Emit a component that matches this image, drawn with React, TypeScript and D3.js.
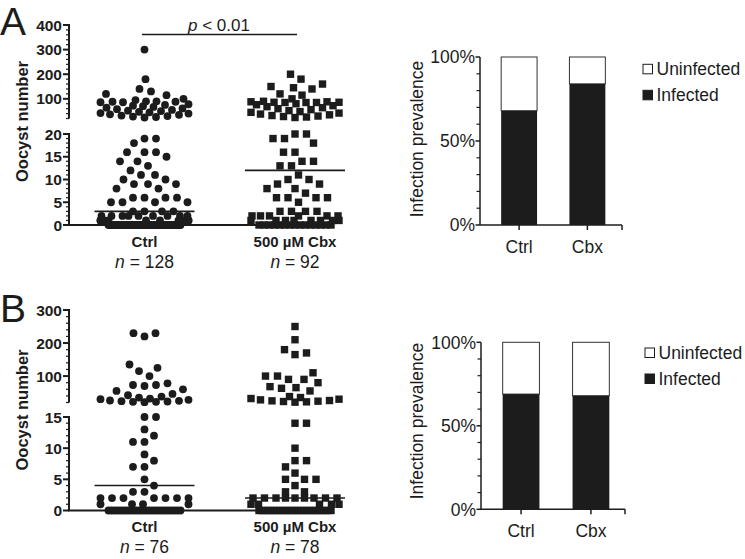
import React, { useMemo } from 'react';
import * as d3 from 'd3';

// ---------------- data ----------------
const groups = ['Ctrl', '500 µM Cbx'];
const prevCats = ['Ctrl', 'Cbx'];
const legendLabels = ['Uninfected', 'Infected'];

const rep = (v: number, n: number) => Array.from({ length: n }, () => v);

// Panel A – oocyst counts
const ctrlA = [
  300, 180, 140, 130, 120, 115, 100, 95, 90, 90, 88, 86, 86, 88,
  78, 75, 72, 70, 67, 64, 61, 58, 55, 52, 50, 47, 45, 42, 40, 37, 35, 32, 30, 28, 26, 24,
  19, 19, 18, 16, 16, 16, 15, 14, 14, 13, 12, 11, 11, 10, 10, 9, 9, 9, 8, 8, 6, 6, 6, 6, 5, 5, 5, 5,
  3, 3, 3, 3,
  ...rep(2, 9), ...rep(1, 10), ...rep(0, 41),
];
const cbxA = [
  200, 180, 160, 150, 145, 140, 120, 115, 100, 90, 88, 86, 85, 85, 85, 86, 88,
  80, 76, 72, 68, 64, 60, 56, 52, 48, 45, 42, 38, 35, 32, 30, 28, 26, 24,
  20, 20, 19, 19, 18, 16, 16, 14, 14, 13, 13, 11, 10, 10, 9, 9, 8, 8, 7, 6, 6, 6, 6, 5, 3, 3, 3, 3,
  ...rep(2, 6), ...rep(1, 8), ...rep(0, 15),
];
// Panel B – oocyst counts
const ctrlB = [
  230, 220, 230, 135, 125, 115, 100, 78, 73, 73, 70, 60, 55,
  46, 42, 38, 35, 32, 30, 28, 26, 25, 24, 23, 22, 22, 21,
  15, 15, 13, 12, 11, 11, 9, 8, 7, 7, 5, 4, 3, 3,
  ...rep(2, 7), ...rep(1, 4), ...rep(0, 24),
];
const cbxB = [
  250, 210, 180, 170, 165, 110, 100, 100, 90, 90, 80, 68, 65, 63, 55,
  38, 35, 32, 30, 28, 26, 25, 24, 23, 22, 21,
  14, 14, 10, 8, 8, 7, 6, 5, 5, 5, 4, 3, 3,
  ...rep(2, 9), ...rep(1, 5), ...rep(0, 25),
];

const mediansA = [3, 12];
const mediansB = [4, 2];
const nA = [128, 92];
const nB = [76, 78];

// Infection prevalence (% infected)
const infectedA = [68, 84];
const infectedB = [69, 68];

// axis ticks
const upperMajorA = [100, 200, 300, 400];
const lowerMajorA = [0, 5, 10, 15, 20];
const upperMajorB = [100, 200, 300];
const lowerMajorB = [0, 5, 10, 15];
const prevMajor = [0, 50, 100];

// ---------------- style ----------------
const FONT = '"Liberation Sans", Arial, Helvetica, sans-serif';
const INK = '#1c1c1c';

type Pt = { v: number; x: number; y: number };

function swarm(
  values: number[],
  yOf: (v: number) => number,
  breakAt: number,
  W = 44,
  Wz = 36,
  dmin = 11.5
): Pt[] {
  const placed: Pt[] = [];
  const zeros = values.filter((v) => v === 0);
  const upperVals = values.filter((v) => v > breakAt).sort((a, b) => a - b);
  const lowerVals = values.filter((v) => v > 0 && v <= breakAt).sort((a, b) => b - a);
  const n0 = zeros.length;
  if (n0) {
    const span = Math.min(Wz, ((n0 - 1) * dmin) / 2);
    zeros.forEach((v, i) => {
      const x = n0 === 1 ? 0 : -span + (i * 2 * span) / (n0 - 1);
      placed.push({ v, x, y: yOf(v) });
    });
  }
  const cands: number[] = [0];
  for (let k = 0.5; k <= W; k += 0.5) cands.push(k, -k);
  [...upperVals, ...lowerVals].forEach((v) => {
    const y = yOf(v);
    const near = placed.filter((p) => Math.abs(p.y - y) < dmin);
    let best = 0;
    let bestCost = Infinity;
    for (const x of cands) {
      let pen = 0;
      for (const p of near) {
        const dx = p.x - x;
        const dy = p.y - y;
        const d = Math.sqrt(dx * dx + dy * dy);
        if (d < dmin) pen += (dmin - d) * (dmin - d);
      }
      const cost = pen + 0.05 * Math.abs(x);
      if (cost < bestCost - 1e-9) {
        bestCost = cost;
        best = x;
      }
    }
    placed.push({ v, x: best, y });
  });
  return placed;
}

type ScatterProps = {
  letter: string;
  letterY: number;
  data: number[][];
  medians: number[];
  ns: number[];
  breakAt: number;
  upperDomain: [number, number];
  upperRange: [number, number];
  lowerDomain: [number, number];
  lowerRange: [number, number];
  upperMajor: number[];
  lowerMajor: number[];
  upperMinorStep: number;
  labelY: number;
  groupLabelY: number;
  nLabelY: number;
  pValue?: boolean;
};

function Scatter(p: ScatterProps) {
  const axisX = 69;
  const upper = d3.scaleLinear().domain(p.upperDomain).range(p.upperRange);
  const lower = d3.scaleLinear().domain(p.lowerDomain).range(p.lowerRange);
  const yOf = (v: number) => (v > p.breakAt ? upper(v) : lower(v));
  const x = d3.scalePoint<string>().domain(groups).range([144.5, 295]);
  const swarms = useMemo(() => p.data.map((vals) => swarm(vals, yOf, p.breakAt)), []);
  const baseY = p.lowerRange[0];

  const upMinor = d3.range(p.upperDomain[0], p.upperDomain[1] + 0.01, p.upperMinorStep).filter((t) => !p.upperMajor.includes(t));
  const lowMinor = d3.range(p.lowerDomain[0], p.lowerDomain[1] + 0.01, 1).filter((t) => !p.lowerMajor.includes(t));

  return (
    <g>
      <text x={0} y={p.letterY} fontSize={39} fontFamily={FONT} fill={INK}>
        {p.letter}
      </text>
      <text
        transform={`translate(27.5,${p.labelY}) rotate(-90)`}
        textAnchor="middle"
        fontSize={16.5}
        fontWeight="bold"
        fontFamily={FONT}
        fill={INK}
      >
        Oocyst number
      </text>
      {/* upper axis segment */}
      <line x1={axisX} x2={axisX} y1={p.upperRange[0]} y2={p.upperRange[1] - 1} stroke={INK} strokeWidth={2} />
      {upMinor.map((t) => (
        <line key={'um' + t} x1={axisX - 3} x2={axisX} y1={upper(t)} y2={upper(t)} stroke={INK} strokeWidth={1.2} />
      ))}
      {p.upperMajor.map((t) => (
        <g key={'uM' + t}>
          <line x1={axisX - 6} x2={axisX} y1={upper(t)} y2={upper(t)} stroke={INK} strokeWidth={2} />
          <text x={axisX - 7} y={upper(t)} dy="0.36em" textAnchor="end" fontSize={15.5} fontWeight="bold" fontFamily={FONT} fill={INK}>
            {t}
          </text>
        </g>
      ))}
      {/* lower axis segment */}
      <line x1={axisX} x2={axisX} y1={p.lowerRange[0]} y2={p.lowerRange[1] - 1} stroke={INK} strokeWidth={2} />
      {lowMinor.map((t) => (
        <line key={'lm' + t} x1={axisX - 3} x2={axisX} y1={lower(t)} y2={lower(t)} stroke={INK} strokeWidth={1.2} />
      ))}
      {p.lowerMajor.map((t) => (
        <g key={'lM' + t}>
          <line x1={axisX - 6} x2={axisX} y1={lower(t)} y2={lower(t)} stroke={INK} strokeWidth={2} />
          <text x={axisX - 7} y={lower(t)} dy="0.36em" textAnchor="end" fontSize={15.5} fontWeight="bold" fontFamily={FONT} fill={INK}>
            {t}
          </text>
        </g>
      ))}
      {/* points */}
      {swarms.map((pts, gi) =>
        pts.map((pt, i) =>
          gi === 0 ? (
            <circle key={gi + '-' + i} cx={x(groups[gi])! + pt.x} cy={pt.y} r={3.9} fill={INK} />
          ) : (
            <rect key={gi + '-' + i} x={x(groups[gi])! + pt.x - 3.7} y={pt.y - 3.7} width={7.4} height={7.4} fill={INK} />
          )
        )
      )}
      {/* x axis */}
      <line x1={axisX - 1} x2={332} y1={baseY} y2={baseY} stroke={INK} strokeWidth={2} />
      {/* medians */}
      {p.medians.map((m, gi) => (
        <line key={'med' + gi} x1={x(groups[gi])! - 50} x2={x(groups[gi])! + 50} y1={lower(m)} y2={lower(m)} stroke={INK} strokeWidth={1.6} />
      ))}
      {/* group labels */}
      {groups.map((g, gi) => (
        <g key={'gl' + g}>
          <text x={x(g)} y={p.groupLabelY} textAnchor="middle" fontSize={15} fontWeight="bold" fontFamily={FONT} fill={INK}>
            {g}
          </text>
          <text x={x(g)} y={p.nLabelY} textAnchor="middle" fontSize={17.5} fontFamily={FONT} fill={INK}>
            <tspan fontStyle="italic">n</tspan> = {p.ns[gi]}
          </text>
        </g>
      ))}
      {p.pValue && (
        <g>
          <line x1={x(groups[0])! - 2.5} x2={x(groups[1])! + 2} y1={34.5} y2={34.5} stroke={INK} strokeWidth={1.6} />
          <text x={219} y={31} textAnchor="middle" fontSize={17} fontFamily={FONT} fill={INK}>
            <tspan fontStyle="italic">p</tspan> &lt; 0.01
          </text>
        </g>
      )}
    </g>
  );
}

type BarProps = {
  infected: number[];
  axisX: number;
  top: number;
  bottom: number;
  rangeEnd: number;
  axisEnd: number;
  labelY: number;
  catLabelY: number;
  legX: number;
  legY: number;
};

function Prevalence(p: BarProps) {
  const y = d3.scaleLinear().domain([0, 100]).range([p.bottom, p.top]);
  const x = d3.scaleBand<string>().domain(prevCats).range([p.axisX, p.rangeEnd]).paddingInner(0.474).paddingOuter(0.31);
  const minor = d3.range(0, 101, 10).filter((t) => !prevMajor.includes(t));
  return (
    <g fontFamily={FONT} fill={INK}>
      {prevCats.map((c, i) => (
        <g key={c}>
          <rect x={x(c)} y={y(100)} width={x.bandwidth()} height={y(p.infected[i]) - y(100)} fill="#fff" stroke="#333" strokeWidth={1} />
          <rect x={x(c)} y={y(p.infected[i])} width={x.bandwidth()} height={y(0) - y(p.infected[i])} fill={INK} />
          <line x1={x(c)! + x.bandwidth() / 2} x2={x(c)! + x.bandwidth() / 2} y1={p.bottom} y2={p.bottom + 5} stroke={INK} strokeWidth={1.5} />
          <text x={x(c)! + x.bandwidth() / 2} y={p.catLabelY} textAnchor="middle" fontSize={17.5}>
            {c}
          </text>
        </g>
      ))}
      <line x1={p.axisX} x2={p.axisX} y1={p.bottom} y2={p.top} stroke={INK} strokeWidth={1.5} />
      <line x1={p.axisX} x2={p.axisEnd} y1={p.bottom} y2={p.bottom} stroke={INK} strokeWidth={1.5} />
      <line x1={p.axisEnd} x2={p.axisEnd} y1={p.bottom} y2={p.bottom + 5} stroke={INK} strokeWidth={1.5} />
      {minor.map((t) => (
        <line key={'m' + t} x1={p.axisX - 3.5} x2={p.axisX} y1={y(t)} y2={y(t)} stroke={INK} strokeWidth={1.2} />
      ))}
      {prevMajor.map((t) => (
        <g key={'M' + t}>
          <line x1={p.axisX - 4.5} x2={p.axisX} y1={y(t)} y2={y(t)} stroke={INK} strokeWidth={1.5} />
          <text x={p.axisX - 5} y={y(t)} dy="0.36em" textAnchor="end" fontSize={17.5}>
            {t}%
          </text>
        </g>
      ))}
      <text transform={`translate(423,${p.labelY}) rotate(-90)`} textAnchor="middle" fontSize={17.5}>
        Infection prevalence
      </text>
      {legendLabels.map((l, i) => (
        <g key={l}>
          <rect
            x={p.legX}
            y={p.legY + i * 26}
            width={9.5}
            height={9.5}
            fill={i === 0 ? '#fff' : INK}
            stroke={INK}
            strokeWidth={1}
          />
          <text x={p.legX + 13.5} y={p.legY + i * 26 + 10.5} fontSize={17.5}>
            {l}
          </text>
        </g>
      ))}
    </g>
  );
}

export default function App() {
  return (
    <svg
      width={745}
      height={559}
      viewBox="0 0 745 559"
      style={{ position: 'absolute', left: 0, top: 0, background: '#fff' }}
    >
      <rect width={745} height={559} fill="#fff" />
      <Scatter
        letter="A"
        letterY={35}
        data={[ctrlA, cbxA]}
        medians={mediansA}
        ns={nA}
        breakAt={20}
        upperDomain={[20, 400]}
        upperRange={[118.5, 25]}
        lowerDomain={[0, 20]}
        lowerRange={[225, 134]}
        upperMajor={upperMajorA}
        lowerMajor={lowerMajorA}
        upperMinorStep={20}
        labelY={121.5}
        groupLabelY={246.5}
        nLabelY={267.5}
        pValue
      />
      <Scatter
        letter="B"
        letterY={321.5}
        data={[ctrlB, cbxB]}
        medians={mediansB}
        ns={nB}
        breakAt={15}
        upperDomain={[20, 300]}
        upperRange={[402.5, 310]}
        lowerDomain={[0, 15]}
        lowerRange={[510.5, 417]}
        upperMajor={upperMajorB}
        lowerMajor={lowerMajorB}
        upperMinorStep={20}
        labelY={410}
        groupLabelY={531.5}
        nLabelY={552.5}
      />
      <Prevalence
        infected={infectedA}
        axisX={480}
        top={57}
        bottom={225}
        rangeEnd={626.5}
        axisEnd={622}
        labelY={139}
        catLabelY={253}
        legX={643}
        legY={64.3}
      />
      <Prevalence
        infected={infectedB}
        axisX={481}
        top={342.3}
        bottom={509.3}
        rangeEnd={631}
        axisEnd={625}
        labelY={421}
        catLabelY={536.7}
        legX={645}
        legY={348}
      />
    </svg>
  );
}
